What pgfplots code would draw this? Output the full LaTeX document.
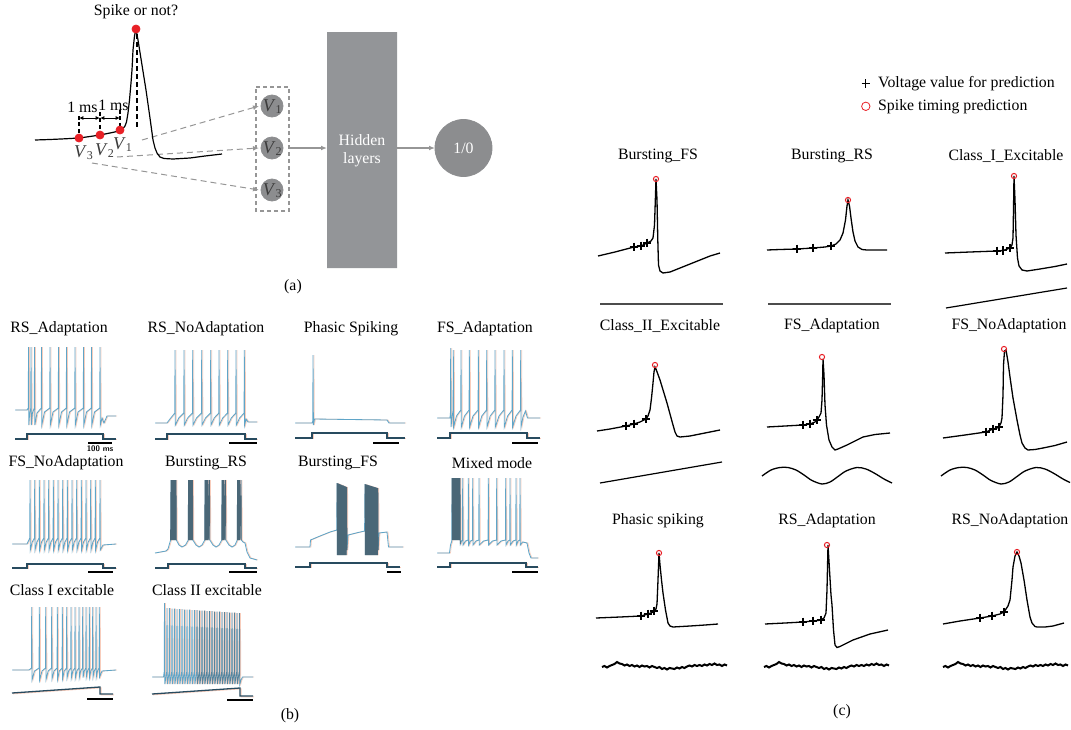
\documentclass[border=0pt]{standalone}
\usepackage{pgfplots}
\pgfplotsset{compat=1.18}
\usepackage{pgfplotstable}
\usetikzlibrary{arrows.meta}
\usepackage{fontspec}
\setmainfont{Liberation Serif}
\newcommand{\fs}{\fontsize{7.9}{9}\selectfont}
\definecolor{tb}{RGB}{95,165,200}
\definecolor{to}{RGB}{248,205,188}
\definecolor{ts}{RGB}{40,75,95}
\definecolor{gA}{RGB}{147,149,152}
\definecolor{gC}{RGB}{140,141,143}
\definecolor{gD}{RGB}{150,150,150}
\definecolor{dk}{RGB}{60,62,66}
\definecolor{rdot}{RGB}{232,32,38}
\definecolor{vtxt}{RGB}{60,60,60}

% ---------- panel (b) traces (x: time, y: voltage, picture units) ----------
\pgfplotstableread[row sep=\\]{x y\\ 15 410\\ 27 410\\ 28.3 408\\ 28.5 347\\ 28.8 425\\ 29.6 414\\ 30.8 408\\ 31 347\\ 31.3 425\\ 32.4 413\\ 34.3 408\\ 34.5 347\\ 34.8 425\\ 37 413\\ 41.3 408\\ 41.5 347\\ 41.8 425\\ 44.5 412\\ 49.8 408\\ 50 347\\ 50.3 425\\ 53 412\\ 58.3 408\\ 58.5 347\\ 58.8 425\\ 61.5 412\\ 66.3 408\\ 66.5 347\\ 66.8 425\\ 69.5 412\\ 74.8 408\\ 75 347\\ 75.3 425\\ 78 412\\ 83.3 408\\ 83.5 347\\ 83.8 425\\ 86.5 412\\ 91.3 408\\ 91.5 347\\ 91.8 425\\ 94.5 412\\ 99.8 408\\ 100 347\\ 100.3 425\\ 102 418\\ 104 423\\ 107 416\\ 116 416\\}\bA
\pgfplotstableread[row sep=\\]{x y\\ 155 423\\ 167 423\\ 170 419\\ 174.8 413\\ 175 350\\ 175.3 425\\ 178.8 418\\ 183.8 413\\ 184 350\\ 184.3 425\\ 187.6 418\\ 192.5 413\\ 192.7 350\\ 193 425\\ 196.5 418\\ 201.5 413\\ 201.7 350\\ 202 425\\ 205.5 418\\ 210.5 413\\ 210.7 350\\ 211 425\\ 214.2 418\\ 218.8 413\\ 219 350\\ 219.3 425\\ 222.7 418\\ 227.5 413\\ 227.7 350\\ 228 425\\ 231.3 418\\ 235.8 413\\ 236 350\\ 236.3 425\\ 239.6 418\\ 244.1 413\\ 244.3 350\\ 244.6 425\\ 246 419\\ 248 422\\ 257 422\\}\bB
\pgfplotstableread[row sep=\\]{x y\\ 295 423\\ 312 423\\ 312.8 421\\ 313 355\\ 313.4 425\\ 314.5 419\\ 350 419.5\\ 387 420\\ 389 423\\ 405 423\\}\bC
\pgfplotstableread[row sep=\\]{x y\\ 437 418\\ 450 418\\ 450.5 412\\ 450.7 348\\ 451 427\\ 452 418\\ 453.1 410\\ 453.3 350\\ 453.6 427\\ 456.5 416\\ 460.8 410\\ 461 350\\ 461.3 427\\ 464.5 416\\ 469.1 410\\ 469.3 350\\ 469.6 427\\ 473 416\\ 478.1 410\\ 478.3 350\\ 478.6 427\\ 481.8 416\\ 486.5 410\\ 486.7 350\\ 487 427\\ 490.2 416\\ 494.8 410\\ 495 350\\ 495.3 427\\ 499 416\\ 503.8 410\\ 504 350\\ 504.3 427\\ 507.6 416\\ 512.1 410\\ 512.3 350\\ 512.6 427\\ 516 416\\ 520.5 410\\ 520.7 350\\ 521 427\\ 523 417\\ 525.5 411\\ 527.5 418\\ 540 418\\}\bD
\pgfplotstableread[row sep=\\]{x y\\ 12 544\\ 27 544\\ 29.8 538\\ 30 480\\ 30.3 550\\ 32.2 542\\ 34.5 538\\ 34.7 480\\ 35 550\\ 36.9 542\\ 39.1 538\\ 39.3 480\\ 39.6 550\\ 41.5 542\\ 43.8 538\\ 44 480\\ 44.3 550\\ 46.2 542\\ 48.5 538\\ 48.7 480\\ 49 550\\ 50.9 542\\ 53.1 538\\ 53.3 480\\ 53.6 550\\ 55.5 542\\ 57.8 538\\ 58 480\\ 58.3 550\\ 60.2 542\\ 62.5 538\\ 62.7 480\\ 63 550\\ 64.9 542\\ 67.1 538\\ 67.3 480\\ 67.6 550\\ 69.5 542\\ 71.8 538\\ 72 480\\ 72.3 550\\ 74.2 542\\ 76.5 538\\ 76.7 480\\ 77 550\\ 78.9 542\\ 81.1 538\\ 81.3 480\\ 81.6 550\\ 83.5 542\\ 85.8 538\\ 86 480\\ 86.3 550\\ 88.2 542\\ 90.5 538\\ 90.7 480\\ 91 550\\ 92.9 542\\ 95.1 538\\ 95.3 480\\ 95.6 550\\ 97.5 542\\ 99.8 538\\ 100 480\\ 100.3 550\\ 103 545\\ 116 544\\}\bE
\pgfplotstableread[row sep=\\]{x y\\ 155 553\\ 166 551\\ 168 549\\ 170.6 540\\ 171 480\\ 171.3 540\\ 172 480\\ 172.3 540\\ 173 480\\ 173.3 540\\ 174 480\\ 174.3 540\\ 175 480\\ 175.3 540\\ 176 480\\ 176.3 540\\ 179 545\\ 182 547\\ 185.5 545\\ 188.3 540\\ 188.5 480\\ 188.8 540\\ 189.5 480\\ 189.8 540\\ 190.5 480\\ 190.8 540\\ 191.5 480\\ 191.8 540\\ 192.5 480\\ 192.8 540\\ 196 545\\ 199 547\\ 202 545\\ 204.8 540\\ 205 480\\ 205.3 540\\ 206 480\\ 206.3 540\\ 207 480\\ 207.3 540\\ 208 480\\ 208.3 540\\ 209.5 480\\ 209.8 540\\ 213 545\\ 216 547\\ 219 545\\ 221.8 540\\ 222 480\\ 222.3 540\\ 223 480\\ 223.3 540\\ 224 480\\ 224.3 540\\ 225.5 480\\ 225.8 540\\ 229 545\\ 232 547\\ 235 545\\ 237.3 540\\ 237.5 480\\ 237.8 540\\ 238.5 480\\ 238.8 540\\ 239.5 480\\ 239.8 540\\ 241 480\\ 241.3 540\\ 243 542\\ 245 543\\ 247 552\\ 250 558\\ 257 560\\}\bF
\pgfplotstableread[row sep=\\]{x y\\ 295 547\\ 310 547\\ 310.5 540\\ 320 536\\ 330 532\\ 336.8 530\\ 337 483\\ 337.35 555\\ 337.8 483.3\\ 338.15 555\\ 338.6 483.7\\ 338.95 555\\ 339.4 484\\ 339.75 555\\ 340.2 484.3\\ 340.55 555\\ 341 484.7\\ 341.35 555\\ 341.8 485\\ 342.15 555\\ 342.6 485.3\\ 342.95 555\\ 343.4 485.7\\ 343.75 555\\ 344.2 486\\ 344.55 555\\ 345 486.3\\ 345.35 555\\ 345.8 486.7\\ 346.15 555\\ 346.6 487\\ 346.95 550\\ 348 535\\ 356 533\\ 364.6 531\\ 365 484\\ 365.35 555\\ 365.8 484.25\\ 366.15 555\\ 366.6 484.5\\ 366.95 555\\ 367.4 484.75\\ 367.75 555\\ 368.2 485\\ 368.55 555\\ 369 485.25\\ 369.35 555\\ 369.8 485.5\\ 370.15 555\\ 370.6 485.75\\ 370.95 555\\ 371.4 486\\ 371.75 555\\ 372.2 486.25\\ 372.55 555\\ 373 486.5\\ 373.35 555\\ 373.8 486.75\\ 374.15 555\\ 374.6 487\\ 374.95 555\\ 375.4 487.25\\ 375.75 555\\ 376.2 487.5\\ 376.55 555\\ 377 487.75\\ 377.35 555\\ 377.8 488\\ 378.15 550\\ 379 533\\ 387 532\\ 388.5 547\\ 403 547\\}\bG
\pgfplotstableread[row sep=\\]{x y\\ 437 553\\ 449.5 553\\ 450.5 545\\ 451.8 541\\ 452 478\\ 452.3 540\\ 453 478\\ 453.3 540\\ 454 478\\ 454.3 540\\ 455 478\\ 455.3 540\\ 456 478\\ 456.3 540\\ 457 478\\ 457.3 540\\ 458 478\\ 458.3 540\\ 459 478\\ 459.3 540\\ 460 478\\ 460.3 544\\ 461.5 541\\ 462.5 540\\ 462.7 478\\ 463 545\\ 465.5 541\\ 468.1 540\\ 468.3 478\\ 468.6 545\\ 470.5 541\\ 472.5 540\\ 472.7 478\\ 473 545\\ 476 541\\ 478.8 540\\ 479 478\\ 479.3 545\\ 483.5 541\\ 488.1 540\\ 488.3 478\\ 488.6 545\\ 492.5 541\\ 496.5 540\\ 496.7 478\\ 497 545\\ 501 541\\ 505.5 540\\ 505.7 478\\ 506 545\\ 508 541\\ 509.8 540\\ 510 478\\ 510.3 545\\ 513 541\\ 515.8 540\\ 516 478\\ 516.3 545\\ 518 541\\ 519.8 540\\ 520 478\\ 520.3 545\\ 522.5 542\\ 527 543\\ 529 553\\ 531 558\\ 538 558\\}\bH
\pgfplotstableread[row sep=\\]{x y\\ 12 670\\ 29 670\\ 31.5 668\\ 31.7 607\\ 32 680\\ 34.5 671\\ 39.1 668\\ 39.3 607\\ 39.6 680\\ 42 671\\ 45.5 668\\ 45.7 607\\ 46 679.5\\ 48.2 671\\ 51.5 668\\ 51.7 607\\ 52 679\\ 54 671\\ 57.1 668\\ 57.3 607\\ 57.6 679\\ 59.3 671\\ 62.1 668\\ 62.3 607\\ 62.6 678.5\\ 64.2 671\\ 66.5 668\\ 66.7 607\\ 67 678\\ 68.6 671\\ 70.8 668\\ 71 607\\ 71.3 678\\ 72.8 671\\ 74.8 668\\ 75 607\\ 75.3 678\\ 76.8 671\\ 78.8 668\\ 79 607\\ 79.3 677.5\\ 80.6 671\\ 82.5 668\\ 82.7 607\\ 83 677.5\\ 84.2 671\\ 85.8 668\\ 86 607\\ 86.3 677\\ 87.5 671\\ 89.1 668\\ 89.3 607\\ 89.6 677\\ 90.8 671\\ 92.5 668\\ 92.7 607\\ 93 677\\ 94.2 671\\ 95.8 668\\ 96 607\\ 96.3 677\\ 97.5 671\\ 99.1 668\\ 99.3 607\\ 99.6 677\\ 102 671\\ 116 670\\}\bI
\pgfplotstableread[row sep=\\]{x y\\ 152 677\\ 163.5 677\\ 164.2 672\\ 164.5 603\\ 164.85 684\\ 166.7 672\\ 167 608\\ 167.35 684\\ 169.2 672\\ 169.5 608\\ 169.85 684\\ 171.7 672\\ 172 608.5\\ 172.35 684\\ 174.2 672\\ 174.5 608.5\\ 174.85 684\\ 176.7 672\\ 177 609\\ 177.35 684\\ 179.2 672\\ 179.5 609\\ 179.85 684\\ 181.7 672\\ 182 609\\ 182.35 684\\ 184.2 672\\ 184.5 609.5\\ 184.85 684\\ 186.7 672\\ 187 609.5\\ 187.35 684\\ 189.2 672\\ 189.5 609.5\\ 189.85 684\\ 191.7 672\\ 192 610\\ 192.35 684\\ 194.2 672\\ 194.5 610\\ 194.85 684\\ 196.7 672\\ 197 610\\ 197.35 684\\ 199.2 672\\ 199.5 610.5\\ 199.85 684\\ 201.7 672\\ 202 610.5\\ 202.35 684\\ 204.2 672\\ 204.5 610.5\\ 204.85 684\\ 206.7 672\\ 207 611\\ 207.35 684\\ 209.2 672\\ 209.5 611\\ 209.85 684\\ 211.7 672\\ 212 611\\ 212.35 684\\ 214.2 672\\ 214.5 611.5\\ 214.85 684\\ 216.7 672\\ 217 611.5\\ 217.35 684\\ 219.2 672\\ 219.5 611.5\\ 219.85 684\\ 221.7 672\\ 222 612\\ 222.35 684\\ 224.2 672\\ 224.5 612\\ 224.85 684\\ 226.7 672\\ 227 612\\ 227.35 684\\ 229.2 672\\ 229.5 612.5\\ 229.85 684\\ 231.7 672\\ 232 612.5\\ 232.35 684\\ 234.2 672\\ 234.5 612.5\\ 234.85 684\\ 236.7 672\\ 237 613\\ 237.35 684\\ 239.2 672\\ 239.5 613\\ 239.85 684\\ 241 680\\ 242.5 677\\ 253 677\\}\bJ
% noisy stimulus of panel (c), bottom row
\pgfplotstableread[row sep=\\]{dx y\\ 0 667\\ 2.5 666\\ 5 667.5\\ 7.5 666\\ 10 665\\ 12.5 664\\ 15 662\\ 17.5 663.5\\ 20 664\\ 22.5 665.5\\ 25 664.5\\ 27.5 666\\ 30 665\\ 32.5 666.5\\ 35 665.5\\ 37.5 667\\ 40 665.5\\ 42.5 666.5\\ 45 666\\ 47.5 667.5\\ 50 666\\ 52.5 667\\ 55 668\\ 57.5 667\\ 60 669\\ 62.5 668\\ 65 669.5\\ 67.5 668\\ 70 668.5\\ 72.5 669\\ 75 667.5\\ 77.5 668.5\\ 80 667\\ 82.5 668\\ 85 666.5\\ 87.5 665.5\\ 90 666.5\\ 92.5 665\\ 95 666\\ 97.5 665\\ 100 666\\ 102.5 664.5\\ 105 665.5\\ 107.5 664\\ 110 665\\ 112.5 663.5\\ 115 665\\ 117.5 664.5\\ 120 666\\ 122.5 664.5\\ 125 665.5\\}\noise

\pgfplotsset{
  btr/.style={forget plot, tb, line width=0.42pt},
  bsh/.style={forget plot, to, line width=0.36pt, xshift=0.5pt},
  bst/.style={forget plot, ts, line width=0.65pt},
  bsts/.style={forget plot, to, line width=0.5pt, xshift=0.5pt, yshift=-0.4pt},
  bsc/.style={forget plot, black, line width=1.2pt},
  bdk/.style={forget plot, dk, line width=0.42pt, opacity=0.6},
  ctr/.style={forget plot, black, line width=0.65pt},
}
\begin{document}
\begin{tikzpicture}
\path[use as bounding box] (0,0) rectangle (535.5pt,364.5pt);
\begin{axis}[at={(0,0)}, anchor=south west,
  width=535.5pt, height=364.5pt, scale only axis,
  xmin=0, xmax=1071, ymin=0, ymax=729, y dir=reverse,
  hide axis, clip=false,
  legend style={draw=none, fill=none, font=\fs, at={(axis cs:857,74)}, anchor=north west,
    row sep=2.4pt, inner sep=0pt, nodes={inner sep=1pt}},
  legend cell align=left,
  legend image code/.code={\path (0pt,0pt) (9pt,0pt); \draw[#1] plot coordinates {(4pt,0pt)};},
  legend image post style={mark size=2.1pt, mark options={line width=0.4pt}},
]
% ================= panel (c) =================
\addplot[ctr] coordinates {(598,256)(615,252)(634,247)(641,246)(647,243)(651,241)(653,238)(654.5,225)(655.5,195)(656,179)(657,200)(657.8,240)(658.5,265)(660,271)(663,273)(670,272)(680,268)(690,264)(700,260)(710,256)(720,253)};
\addplot[ctr] coordinates {(767,250)(780,249.5)(797,249)(813,248)(825,247)(831,246)(836,244)(840,240)(843,233)(845.5,220)(847,206)(848,200)(849.5,206)(851,218)(853,232)(855,241)(858,247)(862,249.5)(867,250)(887,250)};
\addplot[ctr] coordinates {(945,253)(970,252)(997,251)(1003,250.5)(1010,248)(1012,245)(1013,238)(1013.5,210)(1014,176)(1015,200)(1016,235)(1017.5,258)(1019,266)(1022,270)(1027,271)(1040,269)(1055,266.5)(1067,264)};
\addplot[ctr] coordinates {(597,431)(610,429)(626,426)(634,424)(640,422)(646,419)(648,416)(650,410)(651.5,398)(653,383)(654,372)(655,367)(656,369)(660,380)(667,403)(673,425)(675,432)(677,436)(680,437)(690,436)(705,433)(720,430)};
\addplot[ctr] coordinates {(767,427)(785,426)(803,425)(810,424)(815,422)(817,420)(819,417)(821,413)(822,400)(822.7,375)(823,359)(824,375)(825,405)(826.5,425)(829,440)(832,447)(835,450)(838,449)(847,445)(855,441)(863,437)(875,434.5)(890,433)};
\addplot[ctr] coordinates {(943,438)(965,435)(986,432)(993,429)(997,428)(999,427)(1001,423)(1002,418)(1003,395)(1003.5,365)(1004.5,351)(1006,350)(1008,362)(1010,377)(1013,398)(1017,420)(1020,435)(1022,443)(1025,448)(1028,450)(1035,449.5)(1043,448)(1055,445.5)(1067,442)};
\addplot[ctr] coordinates {(596,618)(620,617)(641,616)(648,614)(652,612.5)(654,611)(656,609)(657,604)(658,580)(659,553)(660,565)(661.5,580)(663,593)(665.5,610)(668,623)(670,626)(673,627)(690,626)(705,625)(718,624)};
\addplot[ctr] coordinates {(765,624)(785,623)(803,622)(813,621)(818,620.5)(821,620)(824,618)(826,613)(827,590)(828,545)(829.5,570)(831,595)(832,605)(833.5,630)(835,645)(837,647.5)(840,646.5)(853,640)(870,634)(888,630)};
\addplot[ctr] coordinates {(943,624)(960,621)(980,618)(992,616)(1000,614)(1004,612)(1008,606)(1010,600)(1012,580)(1013,567)(1015,556)(1017,552)(1019,556)(1021,563)(1024,580)(1027,600)(1030,617)(1032,623)(1035,626.5)(1037,627)(1045,627)(1053,626)(1064,623)};
% stimuli
\addplot[forget plot, black!70, line width=1pt] coordinates {(600,304)(723,304)};
\addplot[forget plot, black!70, line width=1pt] coordinates {(768,304)(891,304)};
\addplot[ctr, line width=0.6pt] coordinates {(946,308)(1067,288)};
\addplot[ctr, line width=0.6pt] coordinates {(600,483)(722,462)};
\addplot[ctr, smooth] coordinates {(762,476)(771,470)(780,467.5)(788,467.5)(796,470)(804,475)(812,480.5)(822,484)(830,482)(838,476.5)(846,471)(857,467.5)(866,469)(875,473.5)(884,479)(892,483)};
\addplot[ctr, smooth] coordinates {(941,476)(950,470)(959,467.5)(967,467.5)(975,470)(983,475)(991,480.5)(1001,484)(1009,482)(1017,476.5)(1025,471)(1036,467.5)(1045,469)(1054,473.5)(1063,479)(1070,482.5)};
\addplot[ctr, line width=1pt] table[x expr=\thisrow{dx}+602, y=y] {\noise};
\addplot[ctr, line width=1pt] table[x expr=\thisrow{dx}+764, y=y] {\noise};
\addplot[ctr, line width=1pt] table[x expr=\thisrow{dx}+943, y=y] {\noise};
% prediction marks
\addplot[only marks, mark=+, black, mark size=2.2pt, mark options={line width=0.8pt}] coordinates {(634,247)(641,246)(647,243)(797,249)(813,248)(831,246)(997,251)(1003,250.5)(1010,248)(626,426)(634,424)(646,419)(803,425)(810,424)(817,420)(986,432)(993,429)(999,427)(641,616)(648,614)(654,611)(803,622)(813,621)(821,620)(980,618)(992,616)(1004,612)};
\addlegendentry{Voltage value for prediction}
\addplot[only marks, mark=o, rdot, mark size=1.3pt, mark options={line width=0.5pt}] coordinates {(656,179)(848,200)(1014,176)(655,365)(822,357)(1004,349)(659,553)(827,545)(1017,552)};
\addlegendentry{Spike timing prediction}

% ================= panel (b) =================
\addplot[bsh] table {\bA}; \addplot[btr] table {\bA};
\addplot[bsh] table {\bB}; \addplot[btr] table {\bB};
\addplot[bsh] table {\bC}; \addplot[btr] table {\bC};
\addplot[bsh] table {\bD}; \addplot[btr] table {\bD};
\addplot[bsh] table {\bE}; \addplot[btr] table {\bE};
\addplot[bsh] table {\bF}; \addplot[btr] table {\bF};
\addplot[bsh] table {\bG}; \addplot[btr] table {\bG};
\addplot[bsh] table {\bH}; \addplot[btr] table {\bH};
\addplot[bsh] table {\bI}; \addplot[btr] table {\bI};
\addplot[bsh] table {\bJ}; \addplot[btr] table {\bJ};
\addplot[bdk, restrict x to domain=170.5:176.4] table {\bF};
\addplot[bdk, restrict x to domain=188.2:192.9] table {\bF};
\addplot[bdk, restrict x to domain=204.7:209.9] table {\bF};
\addplot[bdk, restrict x to domain=221.7:225.9] table {\bF};
\addplot[bdk, restrict x to domain=237.2:241.4] table {\bF};
\addplot[bdk, restrict x to domain=336.9:347] table {\bG};
\addplot[bdk, restrict x to domain=364.9:378.2] table {\bG};
\addplot[bdk, restrict x to domain=451.9:460.4] table {\bH};
\addplot[bdk, opacity=0.3, restrict x to domain=196:240] table {\bJ};
% stimuli of panel (b)
\addplot[bsts] coordinates {(15,439)(27,439)(27,434)(103,434)(103,439)(116,439)};
\addplot[bst]  coordinates {(15,439)(27,439)(27,434)(103,434)(103,439)(116,439)};
\addplot[bsts] coordinates {(155,439)(167,439)(167,434)(245,434)(245,439)(257,439)};
\addplot[bst]  coordinates {(155,439)(167,439)(167,434)(245,434)(245,439)(257,439)};
\addplot[bsts] coordinates {(295,438)(312,438)(312,433)(387,433)(387,438)(405,438)};
\addplot[bst]  coordinates {(295,438)(312,438)(312,433)(387,433)(387,438)(405,438)};
\addplot[bsts] coordinates {(437,438)(450,438)(450,433)(527,433)(527,438)(540,438)};
\addplot[bst]  coordinates {(437,438)(450,438)(450,433)(527,433)(527,438)(540,438)};
\addplot[bsts] coordinates {(12,568)(27,568)(27,564)(103,564)(103,568)(116,568)};
\addplot[bst]  coordinates {(12,568)(27,568)(27,564)(103,564)(103,568)(116,568)};
\addplot[bsts] coordinates {(155,568)(168,568)(168,564)(245,564)(245,568)(257,568)};
\addplot[bst]  coordinates {(155,568)(168,568)(168,564)(245,564)(245,568)(257,568)};
\addplot[bsts] coordinates {(295,567)(310,567)(310,563)(387,563)(387,567)(400,567)};
\addplot[bst]  coordinates {(295,567)(310,567)(310,563)(387,563)(387,567)(400,567)};
\addplot[bsts] coordinates {(437,567)(450,567)(450,563)(526,563)(526,567)(538,567)};
\addplot[bst]  coordinates {(437,567)(450,567)(450,563)(526,563)(526,567)(538,567)};
\addplot[bsts] coordinates {(12,693)(100,687)(100,694)(113,694)};
\addplot[bst]  coordinates {(12,693)(100,687)(100,694)(113,694)};
\addplot[bsts] coordinates {(152,694)(240,688)(240,696)(253,696)};
\addplot[bst]  coordinates {(152,694)(240,688)(240,696)(253,696)};
% scale bars (100 ms)
\addplot[bsc] coordinates {(88,443)(112,443)};
\addplot[bsc] coordinates {(229,443)(257,443)};
\addplot[bsc] coordinates {(373,443)(399,443)};
\addplot[bsc] coordinates {(512,443)(538,443)};
\addplot[bsc] coordinates {(88,572)(113,572)};
\addplot[bsc] coordinates {(229,572)(257,572)};
\addplot[bsc] coordinates {(387,572)(401,572)};
\addplot[bsc] coordinates {(512,572)(538,572)};
\addplot[bsc] coordinates {(87,699)(113,699)};
\addplot[bsc] coordinates {(227,700)(253,700)};

% ================= panel (a) =================
\addplot[forget plot, fill=gA, draw=none] coordinates {(327,32)(397,32)(397,268)(327,268)(327,32)};
\addplot[forget plot, gD, line width=0.6pt, dash pattern=on 2pt off 1.5pt] coordinates {(256,87)(289,87)(289,211)(256,211)(256,87)};
\addplot[forget plot, gD, line width=0.5pt, dash pattern=on 3pt off 2pt, arrows={-Latex[length=3pt,width=2.4pt]}] coordinates {(142,140)(259,106)};
\addplot[forget plot, gD, line width=0.5pt, dash pattern=on 3pt off 2pt, arrows={-Latex[length=3pt,width=2.4pt]}] coordinates {(117,157)(259,148)};
\addplot[forget plot, gD, line width=0.5pt, dash pattern=on 3pt off 2pt, arrows={-Latex[length=3pt,width=2.4pt]}] coordinates {(92,163)(259,190)};
\addplot[forget plot, gD, line width=0.6pt, arrows={-Latex[length=3pt,width=2.4pt]}] coordinates {(289,148)(327,148)};
\addplot[forget plot, gD, line width=0.6pt, arrows={-Latex[length=3pt,width=2.4pt]}] coordinates {(397,148)(435,148)};
% input neurons with their labels
\addplot[forget plot, only marks, mark=*, gC, mark size=5.5pt, mark options={fill=gC, draw=gC},
  point meta=explicit symbolic, nodes near coords,
  every node near coord/.append style={anchor=center, inner sep=0pt, text=vtxt, font=\fontsize{9}{10}\selectfont, xshift=0.4pt, yshift=-0.4pt}]
  coordinates {(272,106)[\textit{V}\textsubscript{1}] (272,148)[\textit{V}\textsubscript{2}] (272,190)[\textit{V}\textsubscript{3}]};
\addplot[forget plot, only marks, mark=*, gC, mark size=14.25pt, mark options={fill=gC, draw=gC},
  point meta=explicit symbolic, nodes near coords,
  every node near coord/.append style={anchor=center, inner sep=0pt, text=white, font=\fs}]
  coordinates {(463.5,148)[1/0]};
% dashed guides and 1 ms arrows
\addplot[forget plot, black, line width=0.6pt, dash pattern=on 2pt off 1.2pt] coordinates {(79,116)(79,134)};
\addplot[forget plot, black, line width=0.6pt, dash pattern=on 2pt off 1.2pt] coordinates {(100,112)(100,131)};
\addplot[forget plot, black, line width=0.6pt, dash pattern=on 2pt off 1.2pt] coordinates {(120,110)(120,126)};
\addplot[forget plot, black, line width=0.8pt, dash pattern=on 2.5pt off 1.5pt] coordinates {(137,34)(137,130)};
\addplot[forget plot, black, line width=0.45pt, arrows={Latex[length=2.2pt,width=2pt]-Latex[length=2.2pt,width=2pt]}] coordinates {(79,118)(100,118)};
\addplot[forget plot, black, line width=0.45pt, arrows={Latex[length=2.2pt,width=2pt]-Latex[length=2.2pt,width=2pt]}] coordinates {(100,118)(120,118)};
% spike trace
\addplot[forget plot, black, line width=0.6pt] coordinates {(35,140)(50,139.5)(65,138.8)(79,138)(90,136.5)(100,135)(110,133)(117,131.5)(120,130)(123,128.5)(125,126)(126.5,122)(128,113)(129.5,100)(131,83)(132,70)(133,50)(134.5,36)(136,29)(138,40)(142,65)(146,90)(150,118)(153,140)(155,148)(157,153)(160,157)(164,158.5)(173,159)(190,158)(205,156)(222,154)};
\addplot[forget plot, only marks, mark=*, rdot, mark size=2pt, mark options={fill=rdot, draw=rdot}] coordinates {(79,138)(100,135)(120,130)(136,29)};

% ================= text =================
\begin{scope}[every node/.style={font=\fs, inner sep=0pt}]
\node at (axis cs:136,12) {Spike or not?};
\node at (axis cs:82.5,107) {1 ms};
\node at (axis cs:113.5,105) {1 ms};
\node[text=vtxt, font=\fontsize{9}{10}\selectfont] at (axis cs:84,153) {\textit{V}\textsubscript{3}};
\node[text=vtxt, font=\fontsize{9}{10}\selectfont] at (axis cs:105,151) {\textit{V}\textsubscript{2}};
\node[text=vtxt, font=\fontsize{9}{10}\selectfont] at (axis cs:123,145) {\textit{V}\textsubscript{1}};
\node[text=white, align=center] at (axis cs:362,151) {Hidden\\layers};
\node at (axis cs:293,287) {(a)};
\node at (axis cs:59,329) {RS\_Adaptation};
\node at (axis cs:206,329) {RS\_NoAdaptation};
\node at (axis cs:351,329) {Phasic Spiking};
\node at (axis cs:485,329) {FS\_Adaptation};
\node at (axis cs:66,463) {FS\_NoAdaptation};
\node at (axis cs:206,463) {Bursting\_RS};
\node at (axis cs:338,463) {Bursting\_FS};
\node at (axis cs:492,463) {Mixed mode};
\node at (axis cs:62,590) {Class I excitable};
\node at (axis cs:207,590) {Class II excitable};
\node[font=\fontsize{4}{4}\sffamily\bfseries] at (axis cs:100,448.5) {100 ms};
\node at (axis cs:290,716) {(b)};
\node at (axis cs:658,156) {Bursting\_FS};
\node at (axis cs:832,156) {Bursting\_RS};
\node at (axis cs:1006,156) {Class\_I\_Excitable};
\node at (axis cs:660,326) {Class\_II\_Excitable};
\node at (axis cs:832,326) {FS\_Adaptation};
\node at (axis cs:1009,326) {FS\_NoAdaptation};
\node at (axis cs:658,521) {Phasic spiking};
\node at (axis cs:827,521) {RS\_Adaptation};
\node at (axis cs:1010,521) {RS\_NoAdaptation};
\node at (axis cs:842,712) {(c)};
\end{scope}
\end{axis}
\end{tikzpicture}
\end{document}
